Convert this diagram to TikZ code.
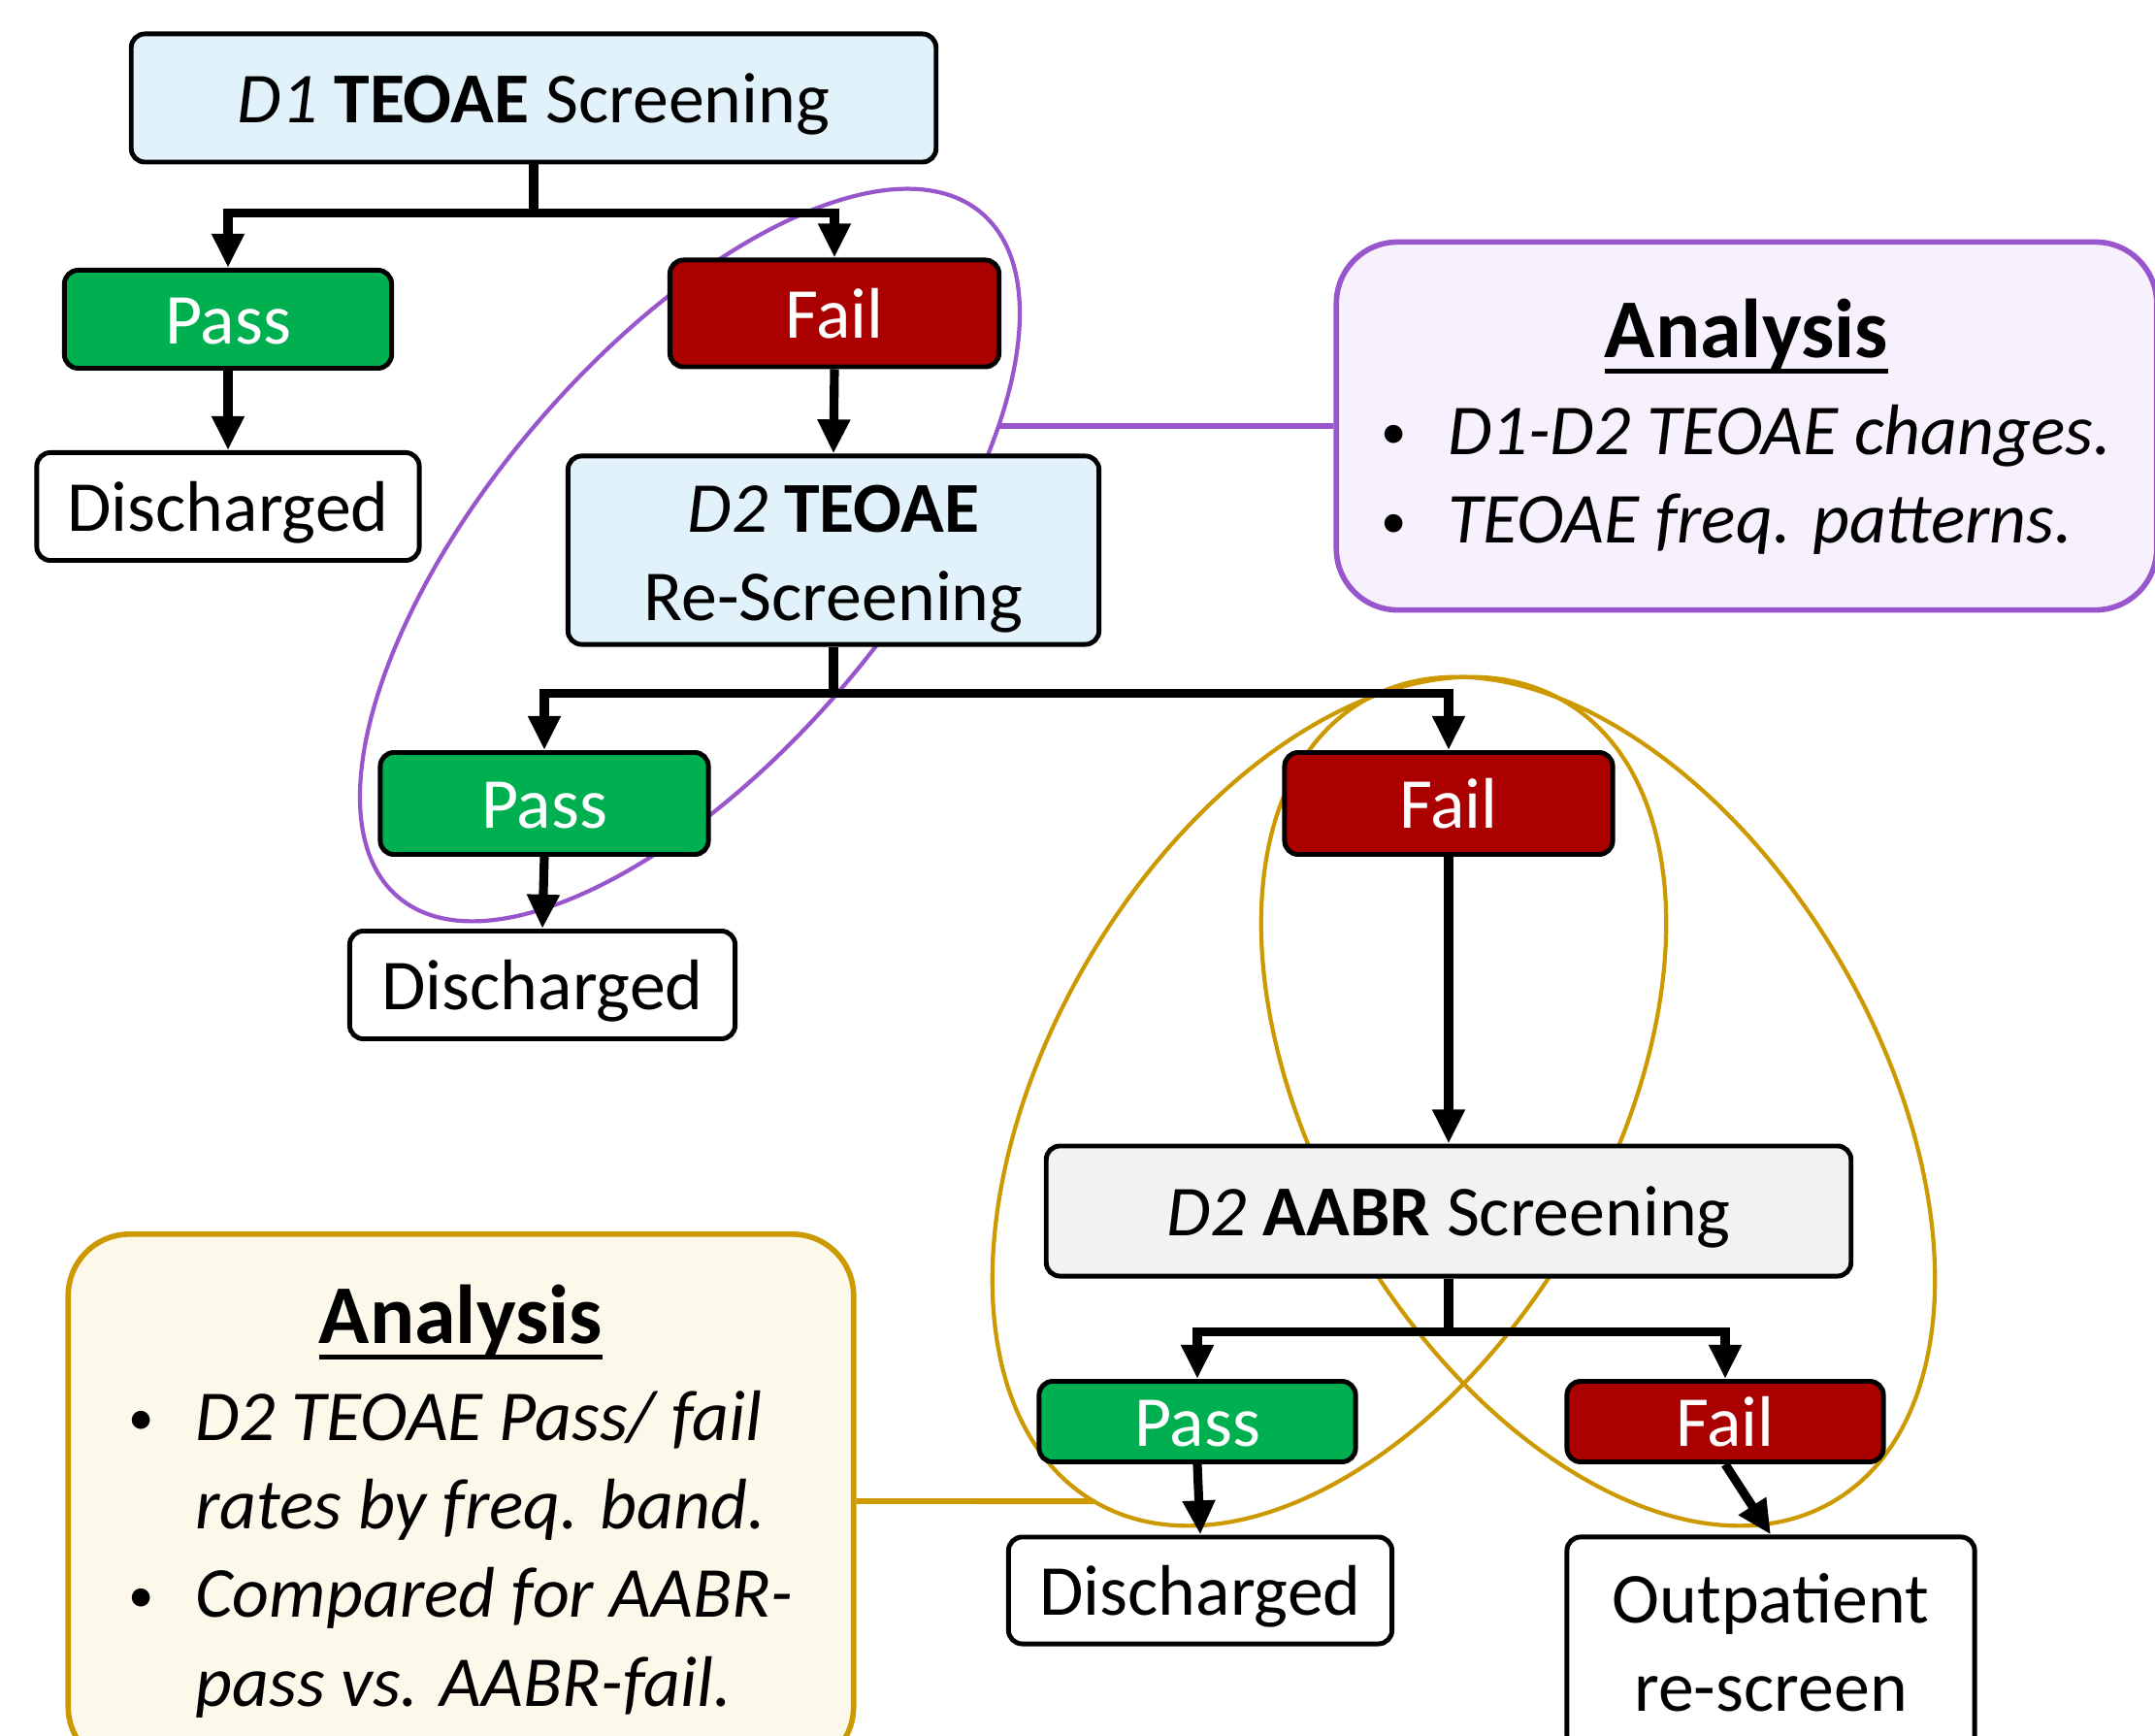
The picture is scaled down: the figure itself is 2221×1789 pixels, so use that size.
\documentclass[tikz,border=0pt]{standalone}
\usepackage{fontspec}
\setmainfont{Carlito}
\usetikzlibrary{arrows.meta, intersections}
\definecolor{screenblue}{RGB}{225, 242, 251}
\definecolor{aabrgrey}{RGB}{242, 242, 242}
\definecolor{passgreen}{RGB}{0, 176, 80}
\definecolor{failred}{RGB}{170, 0, 0}
\definecolor{ringpurple}{RGB}{153, 85, 204}
\definecolor{purplebg}{RGB}{247, 240, 253}
\definecolor{ringgold}{RGB}{204, 153, 0}
\definecolor{goldbg}{RGB}{252, 248, 234}
\newcommand{\bodysize}{\fontsize{21}{26}\selectfont}
\newcommand{\headsize}{\fontsize{24.5}{26}\selectfont}
\newsavebox{\headbox}
\newcommand{\headline}[1]{\sbox{\headbox}{#1}\rlap{\rule[-4.7pt]{\wd\headbox}{1.4pt}}\usebox{\headbox}}
\newcommand{\dotmark}{\makebox[0.93em][l]{\raisebox{1.5pt}{\fontsize{15}{15}\selectfont\textbullet}}}

\begin{document}
\begin{tikzpicture}[
        x=0.01cm, y=-0.01cm,
        box/.style={draw=black, line width=1.4pt, rounded corners=4pt, inner sep=0pt, align=center, font=\bodysize},
        oneline/.style={text height=18.9pt, text depth=4.2pt},
        screenbox/.style={box, fill=screenblue},
        aabrbox/.style={box, oneline, fill=aabrgrey},
        passbox/.style={box, oneline, fill=passgreen, text=white},
        failbox/.style={box, oneline, fill=failred, text=white},
        endbox/.style={box, fill=white},
        notebox/.style={rounded corners=18pt, line width=1.6pt, inner sep=0pt, font=\bodysize},
        ring/.style={line width=1.2pt},
        link/.style={line width=1.7pt},
        arr/.style={-{Triangle[length=10pt, width=9pt]}, line width=2.6pt}
    ]
    \clip (0,0) rectangle (2221,1789);
    \fill[white] (0,0) rectangle (2221,1789);

    % analysis notes
    \node[notebox, draw=ringpurple, fill=purplebg, minimum width=8.45cm, minimum height=3.79cm] (ana1) at (1800,439) {%
        \begin{tabular}{@{}l@{}l@{}}
            \multicolumn{2}{@{}c@{}}{\rule{0pt}{22pt}\headsize\bfseries\headline{Analysis}}\\[2.4pt]
            \dotmark & \textit{D1-D2 TEOAE changes.}\\
            \dotmark & \textit{TEOAE freq. patterns.}
        \end{tabular}};
    \node[notebox, draw=ringgold, fill=goldbg, minimum width=8.09cm, minimum height=5.5cm] (ana2) at (475,1547) {%
        \begin{tabular}{@{}l@{}l@{}}
            \multicolumn{2}{@{}c@{}}{\rule{0pt}{21.6pt}\headsize\bfseries\headline{Analysis}}\\[2.4pt]
            \dotmark & \textit{D2 TEOAE Pass/ fail}\\
             & \textit{rates by freq. band.}\\
            \dotmark & \textit{Compared for AABR-}\\
             & \textit{pass vs. AABR-fail.}
        \end{tabular}};

    % rings round the compared groups
    \draw[ring, ringpurple, name path=ringA, rotate around={49.5:(711,572)}] (711,572) ellipse [x radius=4.63cm, y radius=2.08cm];
    \draw[ring, ringgold, name path=ringB, rotate around={59.5:(1370,1135)}] (1370,1135) ellipse [x radius=4.78cm, y radius=2.88cm];
    \draw[ring, ringgold, rotate around={-59.5:(1647,1135)}] (1647,1135) ellipse [x radius=4.78cm, y radius=2.88cm];

    % links to the notes
    \path[name path=linkA] (ana1.west) -- ++(-400,0);
    \path[name path=linkB] (ana2.east) -- ++(350,0);
    \path[name intersections={of=ringA and linkA, by=pe}];
    \path[name intersections={of=ringB and linkB, by=ge}];
    \draw[link, ringpurple] (pe) -- (ana1.west);
    \draw[link, ringgold] (ana2.east) -- (ge);

    % D1 screening
    \node[screenbox, oneline, minimum width=8.29cm, minimum height=1.32cm] (d1) at (550,101) {\textit{D1} \textbf{TEOAE} Screening};
    \node[passbox, minimum width=3.37cm, minimum height=1.01cm] (pass1) at (235,329) {Pass};
    \node[failbox, minimum width=3.39cm, minimum height=1.10cm] (fail1) at (860,323) {Fail};
    \node[endbox, oneline, minimum width=3.94cm, minimum height=1.11cm] (out1) at (235,522) {Discharged};

    % D2 re-screening
    \node[screenbox, minimum width=5.47cm, minimum height=1.94cm] (d2) at (859,567) {\rule{0pt}{19pt}\textit{D2} \textbf{TEOAE}\\Re-Screening};
    \node[passbox, minimum width=3.38cm, minimum height=1.05cm] (pass2) at (561,828) {Pass};
    \node[endbox, oneline, minimum width=3.97cm, minimum height=1.11cm] (out2) at (559,1015) {Discharged};
    \node[failbox, minimum width=3.38cm, minimum height=1.05cm] (fail2) at (1493,828) {Fail};

    % D2 AABR
    \node[aabrbox, minimum width=8.29cm, minimum height=1.34cm] (d3) at (1493,1248) {\textit{D2} \textbf{AABR} Screening};
    \node[passbox, minimum width=3.26cm, minimum height=0.83cm] (pass3) at (1234,1465) {Pass};
    \node[failbox, minimum width=3.26cm, minimum height=0.83cm] (fail3) at (1778,1465) {Fail};
    \node[endbox, oneline, minimum width=3.95cm, minimum height=1.10cm] (out3) at (1237,1639) {Discharged};
    \node[endbox, minimum width=4.20cm, minimum height=2.18cm] (out4) at (1825,1693) {Outpatient\\re-screen};

    \draw[arr] (d1.south) -- ++(0,50) -| (pass1.north);
    \draw[arr] (d1.south) -- ++(0,50) -| (fail1.north);
    \draw[arr] (pass1.south) -- (out1.north);
    \draw[arr] (fail1.south) -- (d2.north);
    \draw[arr] (d2.south) -- ++(0,48) -| (pass2.north);
    \draw[arr] (d2.south) -- ++(0,48) -| (fail2.north);
    \draw[arr] (pass2.south) -- (out2.north);
    \draw[arr] (fail2.south) -- (d3.north);
    \draw[arr] (d3.south) -- ++(0,55) -| (pass3.north);
    \draw[arr] (d3.south) -- ++(0,55) -| (fail3.north);
    \draw[arr] (pass3.south) -- (out3.north);
    \draw[arr] (fail3.south) -- (out4.north);
\end{tikzpicture}
\end{document}
